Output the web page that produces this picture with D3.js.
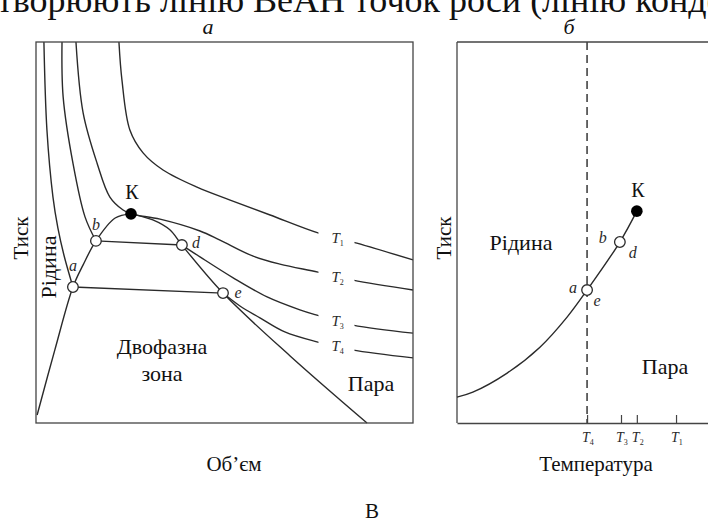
<!DOCTYPE html>
<html><head><meta charset="utf-8">
<script src="https://cdn.jsdelivr.net/npm/d3@7"></script>
<style>body{margin:0;background:#fff}svg{display:block} text{font-family:"Liberation Serif","Times New Roman",Times,serif;}</style>
</head><body>
<svg id="c" width="708" height="523"></svg>
<script>
// ---- data (volume/pressure/temperature in relative units 0..100) ----
const isoT1 = [[22.0,100],[22.8,90.0],[24.9,76.9],[28.4,70.9],[33.7,66.4],[42.7,61.9],[51.5,58.5],[62.1,54.6],[74.8,49.9],[85.1,47.2],[100,42.8]];
const isoT2 = [[10.6,100],[12.5,81.4],[16.2,68.2],[19.6,59.3],[23.1,55.9],[25.2,54.9],[32.9,53.5],[43.5,50.4],[48.8,48.0],[57.6,43.8],[64.7,41.7],[74.8,39.6],[84.1,37.5],[100,34.9]];
const isoT3Liquid = [[6.9,100],[7.2,85.6],[9.8,68.2],[13.0,54.1],[15.9,47.8]];
const isoT3Tie = [[15.9,47.8],[38.7,46.7]];
const isoT3Vapor = [[38.7,46.7],[43.5,43.6],[52.3,38.1],[61.3,33.1],[70.0,29.7],[74.5,28.3],[84.1,25.7],[100,23.6]];
const isoT4Liquid = [[2.1,100],[2.9,76.9],[4.5,59.3],[5.8,51.2],[7.4,44.1],[9.8,35.7]];
const isoT4Tie = [[9.8,35.7],[49.6,34.1]];
const isoT4Vapor = [[49.6,34.1],[54.1,30.7],[59.4,27.6],[66.0,23.9],[74.5,21.3],[83.8,19.2],[100,17.1]];
const bubbleLine = [[0.3,2.1],[5.0,19.2],[9.8,35.7],[12.5,41.5],[15.9,47.8],[21.0,53.8],[25.2,54.9]];
const dewLine = [[25.2,54.9],[31.0,53.3],[35.5,50.7],[38.7,46.7],[49.6,34.1],[67.4,17.6],[87.8,0]];
const isoLabels = ["1","2","3","4"];           // T subscripts
const isoLabelP = [48.5, 38.2, 26.9, 20.2];     // pressure where label sits (gap in line)
const pointsA = [{n:"a",v:9.8,p:35.7},{n:"b",v:15.9,p:47.8},{n:"d",v:38.7,p:46.7},{n:"e",v:49.6,p:34.1}];
const criticalA = {v:25.2,p:54.9};
// panel b (temperature - pressure)
const vaporPressure = [[0,6.8],[4.2,8.1],[13.3,13.1],[22.0,19.9],[29.2,27.8],[34.5,34.9],[43.2,47.5],[47.7,55.6]];
const tickT = [34.5, 43.5, 47.7, 58.1];
const tickNames = ["4","3","2","1"];
const pointsB = [{v:34.5,p:34.9},{v:43.2,p:47.5}];
const criticalB = {v:47.7,p:55.6};
const dashedT = 34.5;

const svg = d3.select("#c");
const ink = "#2a2a2a";

// scales
const xA = d3.scaleLinear().domain([0,100]).range([36,413]);
const yA = d3.scaleLinear().domain([0,100]).range([423,42]);
const xB = d3.scaleLinear().domain([0,100]).range([457,834]);
const yB = d3.scaleLinear().domain([0,100]).range([423,42]);

// top cut title line
svg.append("text").attr("x",-3).attr("y",12).attr("font-size",36)
  .attr("fill","#111").text("творюють лінію ВеАН точок роси (лінію конденсації)");

// panel titles
svg.append("text").attr("x",208).attr("y",34).attr("text-anchor","middle")
  .attr("font-style","italic").attr("font-size",22).attr("fill","#111").text("а");
svg.append("text").attr("x",569).attr("y",34).attr("text-anchor","middle")
  .attr("font-style","italic").attr("font-size",22).attr("fill","#111").text("б");

// ---------- panel a ----------
const gA = svg.append("g");
const lineA = d3.line().x(d=>xA(d[0])).y(d=>yA(d[1])).curve(d3.curveCatmullRom.alpha(0.5));
const straightA = d3.line().x(d=>xA(d[0])).y(d=>yA(d[1]));
[isoT1, isoT2, isoT3Liquid, isoT3Vapor, isoT4Liquid, isoT4Vapor, bubbleLine, dewLine].forEach(c=>{
  gA.append("path").attr("d",lineA(c)).attr("fill","none").attr("stroke",ink).attr("stroke-width",1.4);
});
[isoT3Tie, isoT4Tie].forEach(c=>{
  gA.append("path").attr("d",straightA(c)).attr("fill","none").attr("stroke",ink).attr("stroke-width",1.4);
});
// frame
gA.append("rect").attr("x",xA(0)).attr("y",yA(100)).attr("width",xA(100)-xA(0)).attr("height",yA(0)-yA(100))
  .attr("fill","none").attr("stroke","#444").attr("stroke-width",1.3);

// isotherm labels with gaps
isoLabels.forEach((s,i)=>{
  const cx = xA(79.7), cy = yA(isoLabelP[i]);
  gA.append("rect").attr("x",cx-18).attr("y",cy-9).attr("width",36).attr("height",18).attr("fill","#fff");
  const t = gA.append("text").attr("x",cx-5).attr("y",cy+5).attr("font-style","italic")
    .attr("font-size",15).attr("fill",ink);
  t.append("tspan").text("T");
  t.append("tspan").attr("font-size",8).attr("font-style","normal").attr("dy",3).text(s);
});

// points
const offA = {a:[0,-21],b:[0,-16],d:[14,-2],e:[15,0]};
pointsA.forEach(pt=>{
  gA.append("circle").attr("cx",xA(pt.v)).attr("cy",yA(pt.p)).attr("r",5.3)
    .attr("fill","#fff").attr("stroke",ink).attr("stroke-width",1.3);
  gA.append("text").attr("x",xA(pt.v)+offA[pt.n][0]).attr("y",yA(pt.p)+offA[pt.n][1]+5)
    .attr("text-anchor","middle").attr("font-style","italic").attr("font-size",16)
    .attr("fill",ink).text(pt.n);
});
gA.append("circle").attr("cx",xA(criticalA.v)).attr("cy",yA(criticalA.p)).attr("r",5.8).attr("fill","#000");
gA.append("text").attr("x",xA(criticalA.v)+1).attr("y",yA(criticalA.p)-15).attr("text-anchor","middle")
  .attr("font-size",20).attr("fill","#111").text("К");

// region labels a
gA.append("text").attr("transform","translate(56,267) rotate(-90)").attr("text-anchor","middle")
  .attr("font-size",22).attr("fill","#111").text("Рідина");
gA.append("text").attr("x",162).attr("y",354).attr("text-anchor","middle")
  .attr("font-size",22).attr("fill","#111").text("Двофазна");
gA.append("text").attr("x",162).attr("y",381).attr("text-anchor","middle")
  .attr("font-size",22).attr("fill","#111").text("зона");
gA.append("text").attr("x",371).attr("y",391).attr("text-anchor","middle")
  .attr("font-size",22).attr("fill","#111").text("Пара");
gA.append("text").attr("transform","translate(28,238) rotate(-90)").attr("text-anchor","middle")
  .attr("font-size",21).attr("fill","#111").text("Тиск");
svg.append("text").attr("x",234).attr("y",471).attr("text-anchor","middle")
  .attr("font-size",21).attr("fill","#111").text("Об’єм");

// ---------- panel b ----------
const gB = svg.append("g");
const lineB = d3.line().x(d=>xB(d[0])).y(d=>yB(d[1])).curve(d3.curveCatmullRom.alpha(0.5));
gB.append("line").attr("x1",xB(0)).attr("x2",xB(0)).attr("y1",yB(0)).attr("y2",yB(100)).attr("stroke","#444").attr("stroke-width",1.3);
gB.append("line").attr("x1",xB(0)).attr("x2",xB(100)).attr("y1",yB(100)).attr("y2",yB(100)).attr("stroke","#444").attr("stroke-width",1.3);
const axB = d3.axisBottom(xB).tickValues(tickT).tickSizeInner(-8).tickSizeOuter(0).tickFormat("");
const axG = gB.append("g").attr("transform",`translate(0,${yB(0)})`).call(axB);
axG.select(".domain").attr("stroke","#444").attr("stroke-width",1.3);
axG.selectAll(".tick line").attr("stroke","#444").attr("stroke-width",1.2);
tickT.forEach((tv,i)=>{
  const t = gB.append("text").attr("x",xB(tv)-5).attr("y",yB(0)+19)
    .attr("font-style","italic").attr("font-size",14).attr("fill",ink);
  t.append("tspan").text("T");
  t.append("tspan").attr("font-size",8).attr("font-style","normal").attr("dy",3).text(tickNames[i]);
});
gB.append("line").attr("x1",xB(dashedT)).attr("x2",xB(dashedT)).attr("y1",yB(100)).attr("y2",yB(0))
  .attr("stroke","#444").attr("stroke-width",1.6).attr("stroke-dasharray","8,5");
gB.append("path").attr("d",lineB(vaporPressure)).attr("fill","none").attr("stroke",ink).attr("stroke-width",1.4);
pointsB.forEach(pt=>{
  gB.append("circle").attr("cx",xB(pt.v)).attr("cy",yB(pt.p)).attr("r",5.3)
    .attr("fill","#fff").attr("stroke",ink).attr("stroke-width",1.3);
});
gB.append("circle").attr("cx",xB(criticalB.v)).attr("cy",yB(criticalB.p)).attr("r",5.8).attr("fill","#000");
gB.append("text").attr("x",xB(criticalB.v)+1).attr("y",yB(criticalB.p)-14).attr("text-anchor","middle")
  .attr("font-size",20).attr("fill","#111").text("К");
const labB = [["a",pointsB[0],-14,-2],["e",pointsB[0],10,11],["b",pointsB[1],-17,-4],["d",pointsB[1],13,11]];
labB.forEach(l=>{
  gB.append("text").attr("x",xB(l[1].v)+l[2]).attr("y",yB(l[1].p)+l[3]+5).attr("text-anchor","middle")
    .attr("font-style","italic").attr("font-size",16).attr("fill",ink).text(l[0]);
});
gB.append("text").attr("x",521).attr("y",250).attr("text-anchor","middle")
  .attr("font-size",22).attr("fill","#111").text("Рідина");
gB.append("text").attr("x",665).attr("y",374).attr("text-anchor","middle")
  .attr("font-size",22).attr("fill","#111").text("Пара");
gB.append("text").attr("transform","translate(451,238) rotate(-90)").attr("text-anchor","middle")
  .attr("font-size",21).attr("fill","#111").text("Тиск");
svg.append("text").attr("x",596).attr("y",471).attr("text-anchor","middle")
  .attr("font-size",21).attr("fill","#111").text("Температура");

// bottom caption
svg.append("text").attr("x",372).attr("y",518).attr("text-anchor","middle")
  .attr("font-size",21).attr("fill","#111").text("В");
</script>
</body></html>
